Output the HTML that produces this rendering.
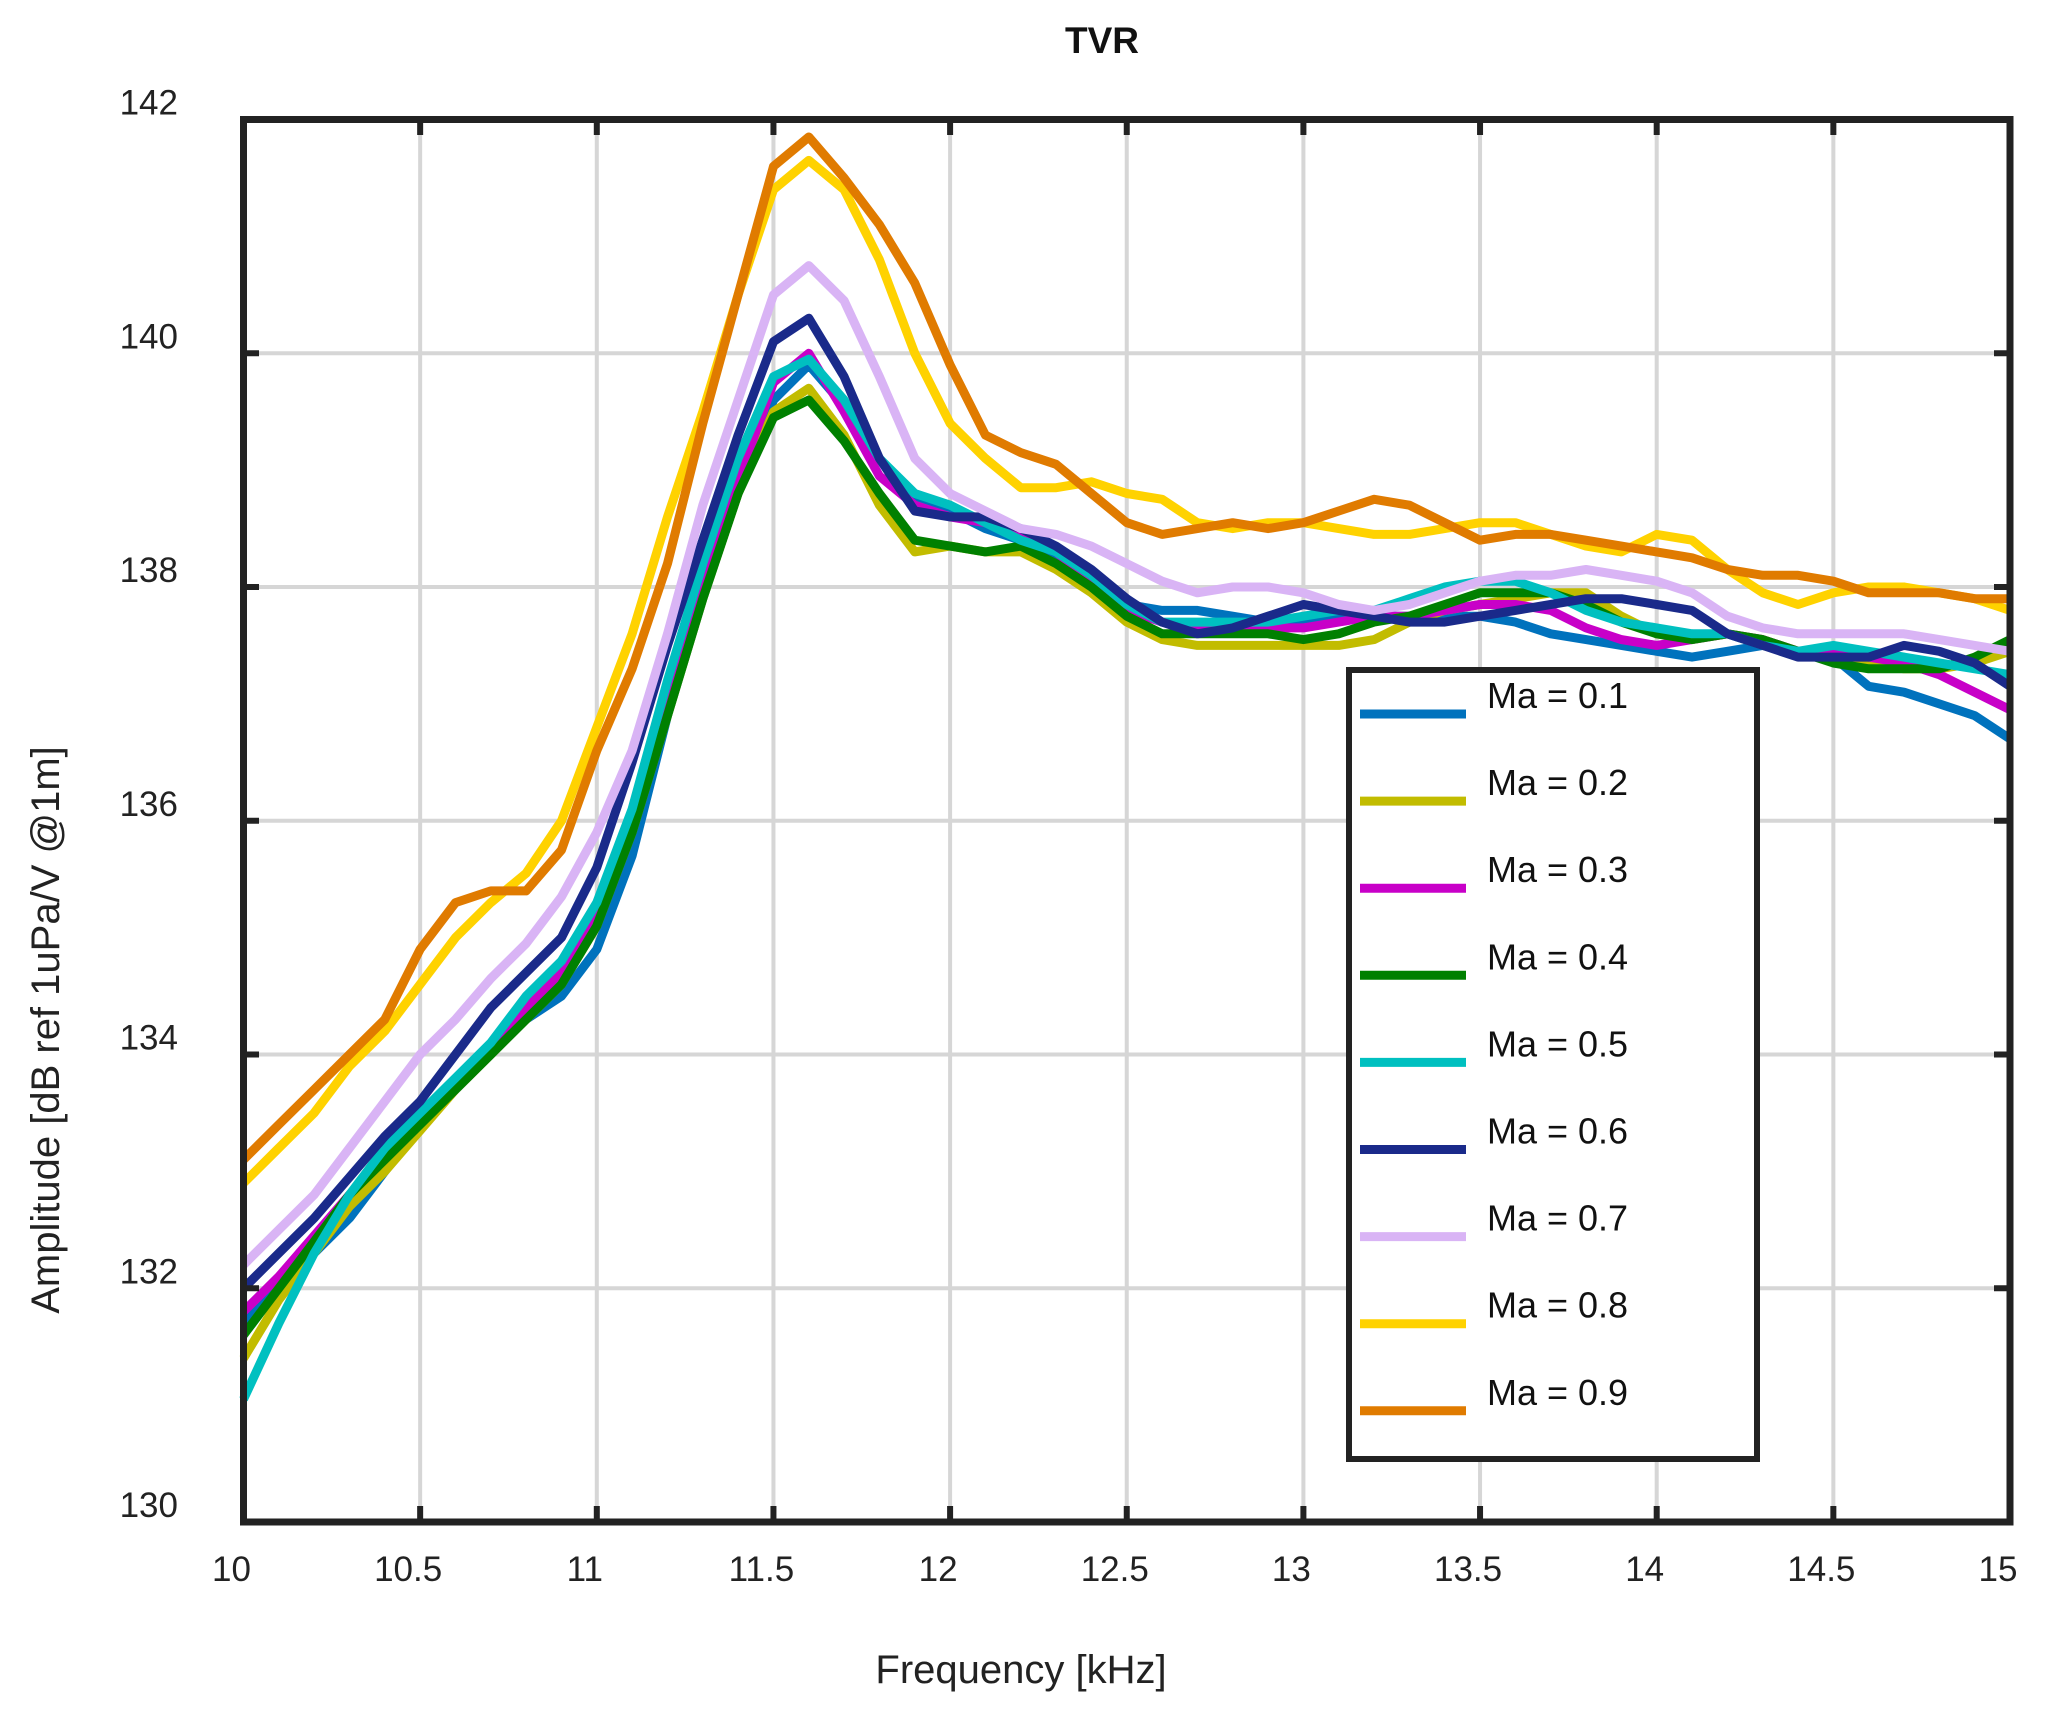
<!DOCTYPE html>
<html><head><meta charset="utf-8"><style>
html,body{margin:0;padding:0;background:#fff;}
svg{display:block;font-family:"Liberation Sans",sans-serif;}
</style></head><body>
<svg id="s" width="2047" height="1719" viewBox="0 0 2047 1719" xmlns="http://www.w3.org/2000/svg">
<rect width="2047" height="1719" fill="#fff"/>
<g id="grid" stroke="#d6d6d6" stroke-width="4"></g>
<g id="series" fill="none" stroke-width="9" stroke-linejoin="round"></g>
<g id="ticks" stroke="#222" stroke-width="6"></g>
<rect x="243.5" y="119.5" width="1766.5" height="1402.5" fill="none" stroke="#222" stroke-width="7"/>
<g id="labels" font-size="35" fill="#222"></g>
<text x="1102" y="53" font-size="37" font-weight="bold" text-anchor="middle" fill="#111">TVR</text>
<text x="1021" y="1683" font-size="40" text-anchor="middle" fill="#222">Frequency [kHz]</text>
<text transform="translate(59,1030) rotate(-90)" font-size="40" text-anchor="middle" fill="#222">Amplitude [dB ref 1uPa/V @1m]</text>
<rect x="1349" y="670" width="408" height="789" fill="#fff" stroke="#222" stroke-width="6"/>
<g id="legend" font-size="36" fill="#111"></g>
</svg>
<script>
var X=function(f){return 243.5+(f-10)*353.3;},Y=function(a){return 1522-(a-130)*116.875;};
var ns="http://www.w3.org/2000/svg";
function el(p,t,a,txt){var e=document.createElementNS(ns,t);for(var k in a)e.setAttribute(k,a[k]);if(txt)e.textContent=txt;document.getElementById(p).appendChild(e);}
for(var i=1;i<10;i++){var x=X(10+i*0.5);el('grid','line',{x1:x,x2:x,y1:119.5,y2:1522});el('ticks','line',{x1:x,x2:x,y1:1522,y2:1506});el('ticks','line',{x1:x,x2:x,y1:119.5,y2:135});}
for(var a=132;a<142;a+=2){var y=Y(a);el('grid','line',{x1:243.5,x2:2010,y1:y,y2:y});el('ticks','line',{x1:243.5,x2:259,y1:y,y2:y});el('ticks','line',{x1:1994,x2:2010,y1:y,y2:y});}
for(var a=130;a<=142;a+=2){el('labels','text',{x:178,y:Y(a)-5,'text-anchor':'end'},String(a));}
var xl=['10','10.5','11','11.5','12','12.5','13','13.5','14','14.5','15'];
for(var i=0;i<11;i++){el('labels','text',{x:X(10+i*0.5)-12,y:1581,'text-anchor':'middle'},xl[i]);}
var D=[
['#0072BD',[131.7,132.0,132.3,132.6,133.0,133.4,133.7,134.0,134.3,134.5,134.9,135.7,136.9,137.9,138.8,139.6,139.9,139.55,139.1,138.75,138.65,138.5,138.4,138.25,138.05,137.85,137.8,137.8,137.75,137.7,137.7,137.75,137.75,137.75,137.75,137.75,137.7,137.6,137.55,137.5,137.45,137.4,137.45,137.5,137.45,137.4,137.15,137.1,137.0,136.9,136.7]],
['#C2BC00',[131.4,131.9,132.3,132.7,133.0,133.35,133.7,134.0,134.3,134.6,135.1,135.9,136.9,137.9,138.8,139.5,139.7,139.3,138.7,138.3,138.35,138.3,138.3,138.15,137.95,137.7,137.55,137.5,137.5,137.5,137.5,137.5,137.55,137.7,137.8,137.85,137.9,137.95,137.95,137.75,137.6,137.55,137.6,137.55,137.45,137.4,137.35,137.3,137.3,137.35,137.45]],
['#C800C8',[131.8,132.1,132.45,132.8,133.15,133.45,133.75,134.05,134.4,134.7,135.2,136.0,137.0,138.0,138.9,139.75,140.0,139.5,138.95,138.7,138.6,138.55,138.45,138.3,138.05,137.8,137.7,137.65,137.65,137.65,137.65,137.7,137.75,137.75,137.8,137.85,137.85,137.8,137.65,137.55,137.5,137.55,137.6,137.55,137.45,137.45,137.4,137.35,137.25,137.1,136.95]],
['#008000',[131.6,132.0,132.4,132.8,133.1,133.4,133.7,134.0,134.3,134.6,135.1,135.9,136.9,137.9,138.8,139.45,139.6,139.25,138.8,138.4,138.35,138.3,138.35,138.2,138.0,137.75,137.6,137.6,137.6,137.6,137.55,137.6,137.7,137.75,137.85,137.95,137.95,137.95,137.85,137.7,137.6,137.55,137.6,137.55,137.45,137.35,137.3,137.3,137.3,137.4,137.55]],
['#00C0C0',[131.05,131.7,132.3,132.8,133.2,133.5,133.8,134.1,134.5,134.8,135.3,136.1,137.2,138.2,139.1,139.8,139.95,139.6,139.1,138.8,138.7,138.55,138.4,138.3,138.1,137.85,137.7,137.7,137.7,137.7,137.75,137.8,137.8,137.9,138.0,138.05,138.05,137.95,137.8,137.7,137.65,137.6,137.6,137.5,137.45,137.5,137.45,137.4,137.35,137.3,137.25]],
['#1A2A8A',[132.0,132.3,132.6,132.95,133.3,133.6,134.0,134.4,134.7,135.0,135.6,136.5,137.5,138.4,139.3,140.1,140.3,139.8,139.1,138.65,138.6,138.6,138.5,138.35,138.15,137.9,137.7,137.6,137.65,137.75,137.85,137.8,137.75,137.7,137.7,137.75,137.8,137.85,137.9,137.9,137.85,137.8,137.6,137.5,137.4,137.4,137.4,137.5,137.45,137.35,137.15]],
['#D9B4F5',[132.2,132.5,132.8,133.2,133.6,134.0,134.3,134.65,134.95,135.35,135.9,136.6,137.6,138.7,139.6,140.5,140.75,140.45,139.8,139.1,138.8,138.65,138.5,138.45,138.35,138.2,138.05,137.95,138.0,138.0,137.95,137.85,137.8,137.85,137.95,138.05,138.1,138.1,138.15,138.1,138.05,137.95,137.75,137.65,137.6,137.6,137.6,137.6,137.55,137.5,137.45]],
['#FFD200',[132.9,133.2,133.5,133.9,134.2,134.6,135.0,135.3,135.55,136.0,136.8,137.6,138.6,139.5,140.5,141.4,141.65,141.4,140.8,140.0,139.4,139.1,138.85,138.85,138.9,138.8,138.75,138.55,138.5,138.55,138.55,138.5,138.45,138.45,138.5,138.55,138.55,138.45,138.35,138.3,138.45,138.4,138.15,137.95,137.85,137.95,138.0,138.0,137.95,137.9,137.8]],
['#E07B00',[133.1,133.4,133.7,134.0,134.3,134.9,135.3,135.4,135.4,135.75,136.6,137.3,138.2,139.4,140.5,141.6,141.85,141.5,141.1,140.6,139.9,139.3,139.15,139.05,138.8,138.55,138.45,138.5,138.55,138.5,138.55,138.65,138.75,138.7,138.55,138.4,138.45,138.45,138.4,138.35,138.3,138.25,138.15,138.1,138.1,138.05,137.95,137.95,137.95,137.9,137.9]]
];
D.forEach(function(s,k){
 var p=s[1].map(function(a,i){return X(10+i*0.1).toFixed(1)+','+Y(a).toFixed(1);}).join(' ');
 el('series','polyline',{points:p,stroke:s[0]});
 var y=714+k*87.1;
 el('legend','line',{x1:1360,x2:1466,y1:y,y2:y,stroke:s[0],'stroke-width':9});
 el('legend','text',{x:1487,y:y-6},'Ma = 0.'+(k+1));
});
</script>
</body></html>
